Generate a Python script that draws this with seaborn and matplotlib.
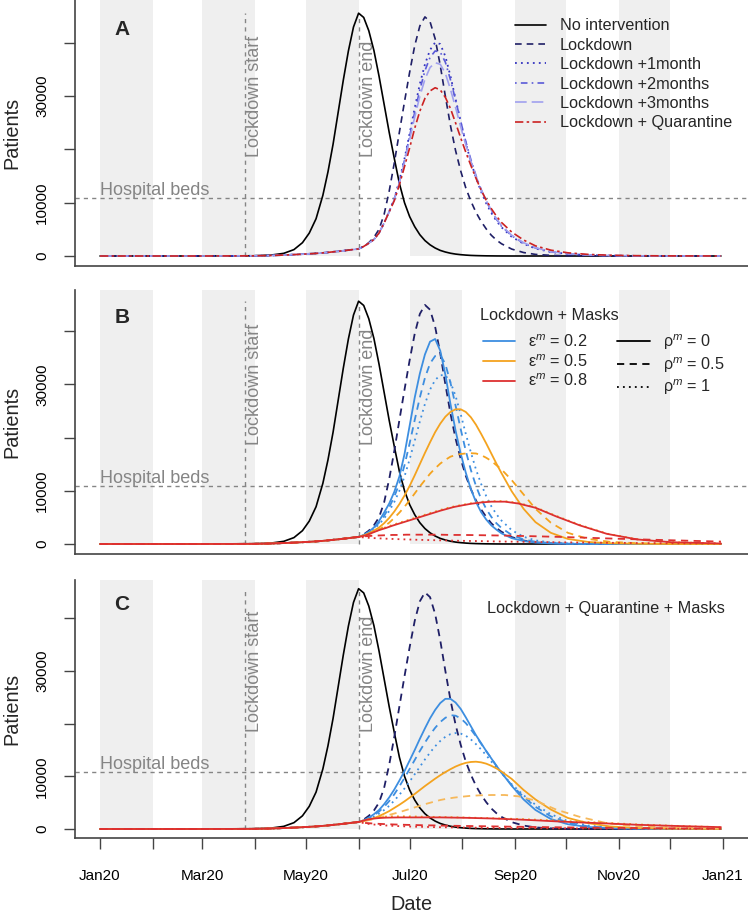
import matplotlib
matplotlib.use("Agg")
import matplotlib.pyplot as plt
import pandas as pd
import seaborn as sns
from matplotlib.lines import Line2D

sns.set_style("ticks")
plt.rcParams.update({
    "font.family": ["Liberation Sans", "DejaVu Sans"],
    "mathtext.fontset": "custom",
    "mathtext.rm": "Liberation Sans",
    "mathtext.it": "Liberation Sans:italic",
    "axes.edgecolor": "#444444",
    "xtick.color": "#444444",
    "ytick.color": "#444444",
    "xtick.labelcolor": "black",
    "ytick.labelcolor": "black",
})

# ---- data: days since 2020-01-01 and patients ----
# early part, before the lockdown end
head_days = [0, 30, 60, 90, 100, 108, 114, 119, 123, 127, 131, 134, 137, 140, 143,
             146, 149]
# fine grid after lockdown end (for the peaked curves)
fine_days = [152, 155, 158, 161, 164, 167, 170, 173, 176, 179, 182, 185, 188, 191,
             194, 197, 200, 203, 206, 209, 212, 215, 218, 221, 224, 227, 230, 233,
             236, 242, 249, 256, 265, 275, 287, 300, 316, 335, 365]
# coarse grid after lockdown end (for the flat curves)
coarse_days = [152, 156, 160, 164, 168, 172, 176, 180, 184, 188, 192, 196, 200, 204,
               208, 212, 218, 224, 230, 238, 246, 256, 268, 282, 298, 316, 336, 365]

no_int_head = [0, 0, 0, 40, 150, 500, 1200, 2500, 4300, 7000, 11400, 15800, 21000,
               27000, 33000, 38500, 43000]
no_int_tail = [45600, 44800, 42300, 38600, 33800, 28500, 23200, 18300, 13600, 10000,
               7400, 5500, 4000, 2900, 2100, 1500, 1050, 750, 520, 360, 250, 170, 110,
               75, 50, 30, 20, 10, 5, 0, 0, 0, 0, 0, 0, 0, 0, 0, 0]

# shared by every intervention scenario up to lockdown end
pre = [0, 0, 0, 30, 90, 180, 260, 340, 410, 490, 590, 680, 780, 880, 990, 1100, 1220]

# panel A (fine grid)
lockdown = [1330, 1800, 2500, 3500, 5000, 7800, 12200, 17500, 23300, 29000, 34500,
            39500, 43200, 44900, 44000, 40800, 35800, 30000, 24500, 19800, 16000,
            12800, 10300, 8200, 6500, 5100, 3900, 3000, 2300, 1300, 650, 300, 120, 40,
            10, 0, 0, 0, 0]
a_plus1 = [1330, 1800, 2400, 3100, 4300, 6200, 8400, 10800, 14200, 18300, 23000,
           27800, 32300, 36000, 38700, 40100, 39800, 37500, 33800, 29500, 25200, 21200,
           17700, 14700, 12100, 9900, 8100, 6600, 5400, 3600, 2300, 1400, 750, 380,
           170, 70, 25, 8, 0]
a_plus2 = [1330, 1800, 2400, 3100, 4300, 6200, 8350, 10700, 14000, 18000, 22500,
           27000, 31200, 34800, 37300, 38500, 38300, 36400, 33100, 29300, 25300, 21500,
           18100, 15100, 12500, 10300, 8500, 6900, 5600, 3800, 2400, 1500, 800, 400,
           180, 75, 25, 8, 0]
a_plus3 = [1330, 1800, 2400, 3100, 4300, 6200, 8300, 10600, 13800, 17600, 21900,
           26100, 30000, 33200, 35400, 36300, 36000, 34300, 31300, 27900, 24300, 20900,
           17800, 15000, 12500, 10400, 8600, 7000, 5700, 3900, 2500, 1550, 850, 420,
           190, 80, 28, 9, 0]
a_quarantine = [1330, 1800, 2400, 3100, 4300, 6200, 8300, 10400, 13400, 16800, 20300,
                24000, 27200, 29600, 31000, 31600, 31200, 29800, 27700, 25000, 22200,
                19500, 17000, 14600, 12400, 10500, 8900, 7500, 6300, 4500, 3000, 1900,
                1100, 600, 300, 140, 60, 20, 5]

# panel B: lockdown + masks (eps = 0.2 / 0.5 on fine grid)
b_e2_r0 = [1330, 1700, 2300, 3100, 4300, 5900, 7600, 9800, 12700, 16900, 22200,
           27500, 32000, 35600, 38000, 38500, 36300, 31800, 26300, 21300, 17000, 13400,
           10300, 7900, 6000, 4600, 3500, 2700, 2000, 1100, 560, 280, 110, 40, 12, 4,
           0, 0, 0]
b_e2_r5 = [1330, 1700, 2200, 3000, 4000, 5300, 6900, 8900, 11400, 14800, 18900,
           23300, 27500, 31200, 33900, 35300, 35500, 33800, 30300, 26000, 21600, 17500,
           13900, 10900, 8500, 6600, 5100, 3900, 3000, 1700, 850, 420, 170, 60, 18, 5,
           0, 0, 0]
b_e2_r1 = [1330, 1650, 2100, 2800, 3700, 4800, 6200, 7900, 10000, 12700, 15900,
           19400, 23000, 26300, 29000, 30800, 31700, 31700, 30400, 27800, 24400, 20700,
           17200, 14000, 11300, 9000, 7100, 5600, 4400, 2600, 1350, 680, 280, 100, 30,
           8, 0, 0, 0]
b_e5_r0 = [1330, 1600, 2000, 2500, 3100, 3900, 4900, 6100, 7500, 9100, 10900, 12900,
           15000, 17100, 19100, 21000, 22600, 23900, 24800, 25300, 25300, 24800, 23800,
           22400, 20700, 18900, 17000, 15100, 13300, 9900, 6600, 4100, 2100, 950, 380,
           140, 45, 12, 3]
b_e5_r5 = [1330, 1550, 1850, 2200, 2700, 3300, 4000, 4900, 5900, 7000, 8200, 9500,
           10800, 12000, 13200, 14200, 15100, 15800, 16400, 16700, 16900, 17000, 17050,
           17000, 16700, 16200, 15600, 14800, 14000, 12000, 9300, 6600, 4000, 2100,
           950, 400, 140, 40, 10]
# (coarse grid)
b_e5_r1 = [1330, 1700, 2200, 2700, 3150, 3600, 4000, 4400, 4800, 5200, 5600, 6000,
           6400, 6750, 7050, 7300, 7650, 7900, 8050, 8050, 7700, 6900, 5300, 3600,
           1950, 870, 340, 100]
b_e8_r0 = [1330, 1600, 2100, 2600, 3000, 3450, 3850, 4250, 4650, 5050, 5450, 5850,
           6250, 6600, 6950, 7200, 7550, 7800, 7950, 7950, 7600, 6800, 5200, 3500,
           1900, 850, 330, 100]
b_e8_r5 = [1330, 1450, 1550, 1600, 1650, 1700, 1700, 1750, 1750, 1750, 1750, 1750,
           1750, 1720, 1700, 1700, 1680, 1650, 1620, 1580, 1520, 1450, 1350, 1220,
           1050, 880, 700, 450]
b_e8_r1 = [1330, 1200, 1120, 1060, 1000, 950, 900, 860, 820, 780, 750, 720, 690, 660,
           630, 600, 570, 540, 500, 460, 420, 380, 330, 280, 230, 180, 130, 80]

# panel C: lockdown + quarantine + masks
c_e2_r0 = [1330, 1650, 2150, 2800, 3600, 4700, 6000, 7500, 9200, 11000, 13000, 15000,
           17100, 19100, 21000, 22600, 23900, 24700, 24700, 24000, 22800, 21200, 19500,
           17800, 16300, 14800, 13400, 12000, 10700, 8200, 5600, 3600, 1900, 900, 380,
           150, 50, 15, 3]
c_e2_r5 = [1330, 1600, 2000, 2600, 3300, 4200, 5300, 6600, 8100, 9700, 11400, 13100,
           14800, 16400, 17900, 19200, 20300, 21100, 21600, 21500, 21000, 20100, 18900,
           17600, 16200, 14800, 13400, 12000, 10700, 8300, 6100, 4200, 2400, 1200, 500,
           190, 65, 20, 5]
c_e2_r1 = [1330, 1580, 1900, 2350, 2900, 3600, 4400, 5400, 6500, 7700, 9000, 10400,
           11800, 13200, 14500, 15700, 16700, 17500, 18000, 18200, 18100, 17700, 17000,
           16100, 15100, 14000, 12800, 11700, 10600, 8500, 6400, 4600, 2800, 1500, 650,
           260, 90, 28, 6]
c_e5_r0 = [1330, 1500, 1750, 2050, 2450, 2900, 3400, 4000, 4600, 5250, 5950, 6650,
           7400, 8150, 8850, 9550, 10200, 10800, 11350, 11850, 12250, 12550, 12720,
           12770, 12650, 12400, 12000, 11500, 10900, 9500, 7400, 5600, 3700, 2100,
           1100, 480, 170, 50, 12]
# (coarse grid)
c_e5_r5 = [1330, 1550, 1800, 2150, 2500, 2850, 3200, 3600, 4000, 4400, 4800, 5150,
           5500, 5750, 5950, 6100, 6300, 6400, 6450, 6450, 6200, 5400, 3700, 2300,
           1100, 500, 250, 100]
c_e5_r1 = [1330, 1750, 2050, 2250, 2350, 2400, 2400, 2400, 2380, 2350, 2330, 2300,
           2280, 2250, 2220, 2200, 2150, 2100, 2050, 1980, 1900, 1780, 1600, 1400,
           1150, 870, 620, 350]
c_e8_r0 = [1330, 1700, 1950, 2080, 2150, 2180, 2200, 2200, 2200, 2200, 2200, 2200,
           2200, 2180, 2160, 2140, 2100, 2050, 2000, 1900, 1800, 1650, 1450, 1250,
           1050, 800, 600, 350]
c_e8_r5 = [1330, 1150, 1050, 980, 920, 870, 830, 790, 760, 730, 700, 680, 650, 630,
           610, 590, 560, 530, 500, 460, 420, 380, 330, 280, 230, 180, 130, 80]
c_e8_r1 = [1330, 1050, 880, 760, 670, 600, 540, 490, 450, 420, 390, 360, 340, 320,
           300, 280, 260, 240, 220, 200, 180, 160, 130, 100, 80, 60, 40, 20]

hospital_beds = 10900
lockdown_start = "2020-03-26"
lockdown_end = "2020-06-01"
month_ticks = pd.date_range("2020-01-01", "2021-01-01", freq="MS")
tick_labels = ["Jan20", "", "Mar20", "", "May20", "", "Jul20", "", "Sep20", "",
               "Nov20", "", "Jan21"]
a_labels = ["No intervention", "Lockdown", "Lockdown +1month", "Lockdown +2months",
            "Lockdown +3months", "Lockdown + Quarantine"]
eps_labels = ["ε$^{m}$ = 0.2", "ε$^{m}$ = 0.5", "ε$^{m}$ = 0.8"]
rho_labels = ["ρ$^{m}$ = 0", "ρ$^{m}$ = 0.5", "ρ$^{m}$ = 1"]

# ---- styles ----
GREY = "#858585"
BAND = "#efefef"
NAVY = "#1f1f66"
BLUE1 = "#3333c0"
BLUE2 = "#5a5ad8"
LAV = "#a0a0ee"
RED_A = "#cc2222"
BLUE = "#3d8ee0"
ORANGE = "#f4a31f"
ORANGE_L = "#f6b85a"
RED = "#dd3030"
SOLID = "-"
DASHED = (0, (4, 3))
DOTTED = (0, (1, 2.3))
DOTDASH = (0, (1, 2.5, 4, 2.5))
LONGDASH = (0, (7, 3))
TWODASH = (0, (5, 2, 1.5, 2))

start = pd.Timestamp("2020-01-01")


def fine(tail):
    return head_days + fine_days, pre + tail


def coarse(tail):
    return head_days + coarse_days, pre + tail


black = (head_days + fine_days, no_int_head + no_int_tail)

panel_a = [(black, "black", SOLID, 1.2),
           (fine(lockdown), NAVY, DASHED, 1.2),
           (fine(a_plus1), BLUE1, DOTTED, 1.3),
           (fine(a_plus2), BLUE2, DOTDASH, 1.2),
           (fine(a_plus3), LAV, LONGDASH, 1.2),
           (fine(a_quarantine), RED_A, TWODASH, 1.2)]

panel_b = [(black, "black", SOLID, 1.2), (fine(lockdown), NAVY, DASHED, 1.3)]
for col, trio in [(BLUE, (fine(b_e2_r0), fine(b_e2_r5), fine(b_e2_r1))),
                  (ORANGE, (fine(b_e5_r0), fine(b_e5_r5), coarse(b_e5_r1))),
                  (RED, (coarse(b_e8_r0), coarse(b_e8_r5), coarse(b_e8_r1)))]:
    for xy, ls in zip(trio, (SOLID, DASHED, DOTTED)):
        panel_b.append((xy, col, ls, 1.3))

panel_c = [(black, "black", SOLID, 1.2), (fine(lockdown), NAVY, DASHED, 1.3)]
for col, trio in [(BLUE, (fine(c_e2_r0), fine(c_e2_r5), fine(c_e2_r1))),
                  (ORANGE, (fine(c_e5_r0), coarse(c_e5_r5), coarse(c_e5_r1))),
                  (RED, (coarse(c_e8_r0), coarse(c_e8_r5), coarse(c_e8_r1)))]:
    for xy, ls in zip(trio, (SOLID, DASHED, DOTTED)):
        c = ORANGE_L if (col == ORANGE and ls == DASHED) else col
        panel_c.append((xy, c, ls, 1.3))

fig = plt.figure(figsize=(7.48, 9.15), dpi=100)
axes_pos = [[75 / 748, 649 / 915, 673 / 748, 266 / 915],
            [75 / 748, 361 / 915, 673 / 748, 264 / 915],
            [75 / 748, 77 / 915, 673 / 748, 258 / 915]]
ylims = [(-1878, 48075), (-1878, 47700), (-1708, 47250)]
letters = ["A", "B", "C"]
panels = [panel_a, panel_b, panel_c]
xlim = (start - pd.Timedelta(days=14.7), start + pd.Timedelta(days=380.9))

axes = []
for pos, ylim, letter, series in zip(axes_pos, ylims, letters, panels):
    ax = fig.add_axes(pos)
    axes.append(ax)
    for m in range(0, 12, 2):
        ax.fill_between([month_ticks[m], month_ticks[m + 1]], 0, 60000,
                        color=BAND, lw=0, zorder=0)
    ax.axhline(hospital_beds, color=GREY, ls=(0, (3, 3)), lw=1, zorder=1)
    for d in (lockdown_start, lockdown_end):
        ax.vlines(pd.Timestamp(d), 0, max(no_int_tail), colors=GREY,
                  linestyles=[(0, (3, 3))], lw=1, zorder=1)
    ax.text(start, hospital_beds + 500, "Hospital beds", color=GREY, fontsize=13,
            ha="left", va="baseline")
    ax.text(pd.Timestamp(lockdown_start) + pd.Timedelta(days=6), 18500,
            "Lockdown start", rotation=90, ha="center", va="bottom", color=GREY,
            fontsize=13)
    ax.text(pd.Timestamp(lockdown_end) + pd.Timedelta(days=6), 18500,
            "Lockdown end", rotation=90, ha="center", va="bottom", color=GREY,
            fontsize=13)
    for (xd, vals), col, ls, lw in series:
        x = start + pd.to_timedelta(xd, unit="D")
        sns.lineplot(x=x, y=vals, ax=ax, color=col, linestyle=ls, lw=lw, zorder=3)
    ax.text(start + pd.Timedelta(days=12.8), 42600, letter, fontsize=15,
            fontweight="bold", ha="center", va="center")

    ax.set_xlim(xlim)
    ax.set_ylim(ylim)
    ax.set_yticks([0, 10000, 20000, 30000, 40000])
    ax.set_yticklabels(["0", "10000", "", "30000", ""], rotation=90, va="center",
                       fontsize=11)
    ax.tick_params(axis="y", length=8, width=1, pad=10.5)
    ax.set_ylabel("Patients", fontsize=14.3)
    ax.yaxis.set_label_coords(-0.080, 0.5)
    ax.set_xlabel("")
    sns.despine(ax=ax)
    ax.spines["left"].set_linewidth(1.2)
    ax.spines["bottom"].set_linewidth(1.2)

# x axis only on bottom panel
for ax in axes[:2]:
    ax.tick_params(axis="x", bottom=False, labelbottom=False)
ax = axes[2]
ax.set_xticks(month_ticks)
ax.set_xticklabels(tick_labels, fontsize=11)
ax.tick_params(axis="x", length=8, width=1, pad=14)
ax.set_xlabel("Date", fontsize=14.3)
ax.xaxis.set_label_coords(0.5, -0.222)

# legend A
ha = [Line2D([], [], color=c, ls=ls, lw=lw) for _, c, ls, lw in panel_a]
axes[0].legend(ha, a_labels, loc="upper left", bbox_to_anchor=(0.654, 0.931),
               frameon=False, fontsize=11.7, handlelength=1.9, handletextpad=0.85,
               labelspacing=0.27, borderpad=0, borderaxespad=0)

# legend B
axes[1].text(0.602, 0.905, "Lockdown + Masks", transform=axes[1].transAxes,
             fontsize=11.7, ha="left", va="center")
hb = ([Line2D([], [], color=c, lw=1.3) for c in (BLUE, ORANGE, RED)] +
      [Line2D([], [], color="black", ls=ls, lw=1.3) for ls in (SOLID, DASHED, DOTTED)])
axes[1].legend(hb, eps_labels + rho_labels, ncol=2, loc="upper left",
               bbox_to_anchor=(0.606, 0.839), frameon=False, fontsize=11.7,
               handlelength=2.0, handletextpad=0.8, labelspacing=0.19,
               columnspacing=1.8, borderpad=0, borderaxespad=0)

# legend C
axes[2].text(0.612, 0.891, "Lockdown + Quarantine + Masks",
             transform=axes[2].transAxes, fontsize=11.7, ha="left", va="center")

fig.savefig("out.png", dpi=100)
